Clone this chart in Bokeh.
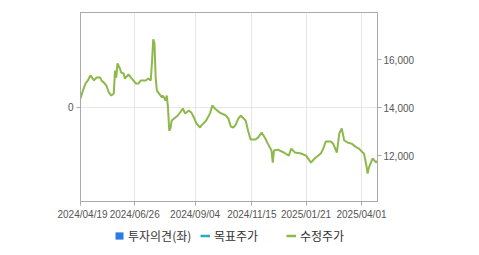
from bokeh.plotting import figure
from bokeh.models import (Range1d, LinearAxis, FixedTicker, Grid, Legend, LegendItem,
                          Spacer, NumeralTickFormatter)
from bokeh.layouts import row, column
from bokeh.embed import file_html
from bokeh.resources import INLINE

# trading-day index (0 = 2024/04/19) and adjusted price (수정주가)
day_idx = [0, 2, 4, 6, 8, 11, 13, 16, 17, 19, 21, 23, 25, 27, 28, 29, 30, 32, 33, 35,
           36, 39, 41, 45, 47, 49, 53, 55, 57, 58, 59, 60, 61, 62, 65, 66, 67, 69, 70, 71,
           72, 73, 74, 77, 79, 82, 83, 85, 88, 90, 92, 94, 97, 98, 102, 105, 107, 109, 113, 118,
           120, 122, 124, 126, 128, 130, 134, 136, 138, 142, 144, 147, 150, 152, 155, 156, 157, 160, 165, 169,
           171, 174, 179, 183, 187, 190, 195, 197, 199, 203, 205, 208, 210, 212, 214, 217, 220, 224, 226, 229,
           230, 232, 233, 234, 237, 240, 241]
price = [14390, 14720, 15010, 15140, 15350, 15140, 15260, 15260, 15140, 15050, 14930, 14640, 14510, 14600, 15550, 15260, 15850, 15640, 15470, 15430,
         15220, 15390, 15260, 15010, 15010, 15140, 15140, 15220, 15140, 15890, 16850, 16700, 15260, 14720, 14510, 14430, 14510, 14300, 14510, 14010,
         13050, 13140, 13470, 13600, 13680, 13890, 13970, 13760, 13890, 13800, 13600, 13350, 13180, 13260, 13470, 13760, 14100, 13970, 13800, 13680,
         13550, 13220, 13180, 13300, 13550, 13680, 13470, 13050, 12680, 12680, 12760, 12970, 12720, 12510, 12220, 11720, 12220, 12260, 12140, 12010,
         12300, 12140, 12100, 12010, 11720, 11890, 12100, 12300, 12600, 12600, 12510, 12140, 12930, 13140, 12640, 12550, 12510, 12350, 12300, 12140,
         12100, 11600, 11260, 11510, 11890, 11720, 11800]

# no investment-opinion bars or target-price points appear in the chart
opinion_idx = [float("nan")]
opinion_val = [float("nan")]
target_idx = [float("nan")]
target_price = [float("nan")]

tick_idx = [0, 44, 93, 139, 183, 228]
tick_labels = ["2024/04/19", "2024/06/26", "2024/09/04", "2024/11/15", "2025/01/21", "2025/04/01"]
price_ticks = [12000, 14000, 16000]
opinion_ticks = [0]
legend_labels = ["투자의견(좌)", "목표주가", "수정주가"]

GRAY = "#aaaaaa"
TICK_FONT = "Liberation Sans"
PRICE_COLOR = "#8db84a"
TARGET_COLOR = "#2aa9c3"
OPINION_COLOR = "#2c7be5"

p = figure(width=422, height=225, output_backend="svg", toolbar_location=None,
           x_range=Range1d(0, 241), y_range=Range1d(10100, 17970),
           y_axis_location="right",
           min_border_left=23, min_border_right=102, min_border_top=12, min_border_bottom=24)
p.background_fill_color = "white"
p.border_fill_color = "white"
p.outline_line_color = GRAY

right_axis = p.yaxis[0]
right_axis.ticker = FixedTicker(ticks=price_ticks)
right_axis.formatter = NumeralTickFormatter(format="0,0")

p.extra_y_ranges = {"op": Range1d(-1, 1)}
left_axis = LinearAxis(y_range_name="op", ticker=FixedTicker(ticks=opinion_ticks))
p.add_layout(left_axis, "left")

p.xaxis.ticker = FixedTicker(ticks=tick_idx)
p.xaxis.major_label_overrides = {i: s for i, s in zip(tick_idx, tick_labels)}

for ax in [p.xaxis[0], right_axis, left_axis]:
    ax.axis_line_color = GRAY
    ax.major_tick_line_color = GRAY
    ax.major_tick_out = 4
    ax.major_tick_in = 0
    ax.minor_tick_line_color = None
    ax.major_label_text_font = TICK_FONT
    ax.major_label_text_font_size = "10px"
    ax.major_label_text_color = "#555555"
right_axis.major_label_standoff = 2
left_axis.major_label_standoff = 3
p.xaxis.major_label_standoff = 3

p.ygrid.visible = False
p.xgrid.ticker = FixedTicker(ticks=tick_idx)
p.xgrid.grid_line_color = "#e6e6e6"
g = Grid(dimension=1, ticker=left_axis.ticker, y_range_name="op", grid_line_color="#e6e6e6")
p.add_layout(g)

p.vbar(x=opinion_idx, top=opinion_val, width=1, y_range_name="op", fill_color=OPINION_COLOR, line_color=None)
p.line(target_idx, target_price, line_color=TARGET_COLOR, line_width=2)
p.line(day_idx, price, line_color=PRICE_COLOR, line_width=2)

# legend strip below the chart
pl = figure(width=479, height=30, output_backend="svg", toolbar_location=None,
            x_range=Range1d(0, 1), y_range=Range1d(0, 1), min_border=0,
            x_axis_type=None, y_axis_type=None)
pl.outline_line_color = None
pl.background_fill_color = "white"
pl.border_fill_color = "white"
l_op = pl.quad(left=opinion_idx, right=opinion_idx, top=opinion_val, bottom=opinion_val,
               fill_color=OPINION_COLOR, line_color=None)
l_tp = pl.line(x=target_idx, y=target_price, line_color=TARGET_COLOR, line_width=2.5)
l_pr = pl.line(x=opinion_idx, y=opinion_val, line_color=PRICE_COLOR, line_width=2.5)

legend = Legend(items=[LegendItem(label=legend_labels[0], renderers=[l_op]),
                       LegendItem(label=legend_labels[1], renderers=[l_tp]),
                       LegendItem(label=legend_labels[2], renderers=[l_pr])],
                location=(114, 11), orientation="horizontal", padding=0, margin=0, spacing=1,
                border_line_color=None, background_fill_alpha=0,
                label_standoff=4, glyph_width=10, glyph_height=9, label_width=71,
                label_text_font="Noto Sans CJK KR", label_text_font_size="12px",
                label_text_color="#333333")
pl.add_layout(legend)

layout = column(row(Spacer(width=57, height=225), p), pl)
open("out.html", "w").write(file_html(layout, INLINE))
